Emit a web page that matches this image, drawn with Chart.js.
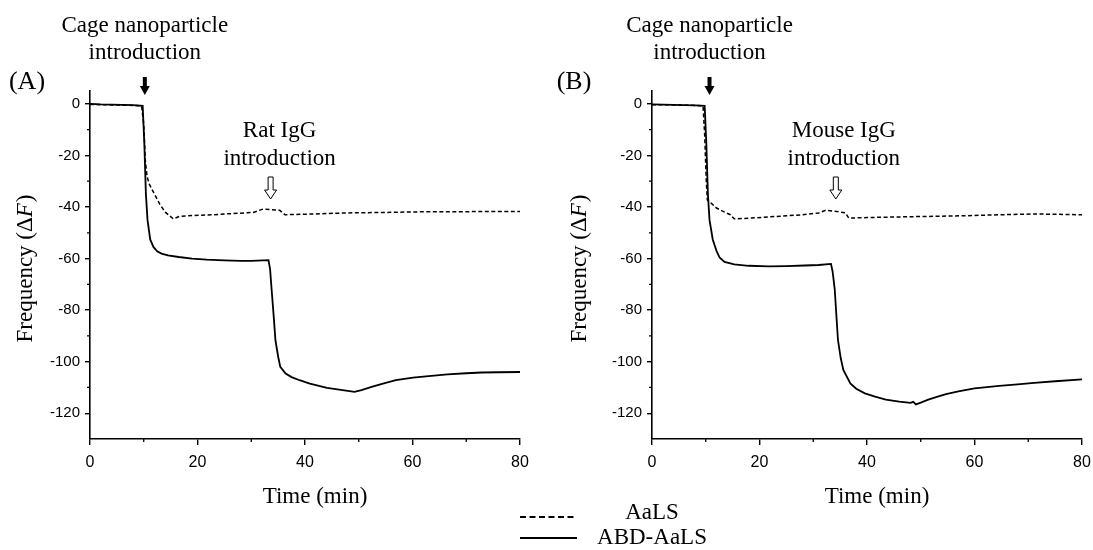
<!DOCTYPE html>
<html lang="en">
<head>
    <meta charset="UTF-8">
    <title>QCM frequency shift</title>
    <script src="https://cdn.jsdelivr.net/npm/chart.js"></script>
    <style>
        body { margin: 0; background: #fff; }
        #wrap { position: relative; width: 1093px; height: 550px; overflow: hidden; }
        canvas { position: absolute; top: 0; }
        #chartA { left: 0; }
        #chartB { left: 546px; }
        #legend { position: absolute; left: 0; top: 0; }
        .lg { position: absolute; font-family: "Liberation Serif", serif; font-size: 23px; color: #000;
              transform: translate(-50%, -50%); white-space: nowrap; }
    </style>
</head>
<body>
<div id="wrap">
    <canvas id="chartA" width="546" height="550"></canvas>
    <canvas id="chartB" width="547" height="550"></canvas>
    <svg id="legend" width="1093" height="550">
        <line x1="520" y1="517" x2="577" y2="517" stroke="#000" stroke-width="1.8" stroke-dasharray="6,3.5"/>
        <line x1="520" y1="538" x2="577" y2="538" stroke="#000" stroke-width="2"/>
    </svg>
    <div class="lg" style="left:652px; top:512px;">AaLS</div>
    <div class="lg" style="left:652px; top:537px;">ABD-AaLS</div>
</div>

<script>
    // axis ticks
    const xMajor = [0, 20, 40, 60, 80];
    const xMinor = [10, 30, 50, 70];
    const yMajor = [-120, -100, -80, -60, -40, -20, 0];
    const yMinor = [-110, -90, -70, -50, -30, -10];

    // (A) rat IgG
    const timeA_AaLS = [0, 2, 4, 6, 8, 9.6, 10, 10.3, 10.6, 11, 12, 13, 14, 15.5, 16.7, 19, 22.9, 26, 30.4, 32.2, 33.5, 35.3, 36.3, 40, 47.8, 55, 60.2, 70, 80];
    const freqA_AaLS = [-0.2, -0.3, -0.4, -0.5, -0.6, -0.8, -8, -22, -28, -31, -35, -39, -42, -44.6, -43.6, -43.3, -43, -42.6, -42.1, -40.8, -41, -41.3, -43, -42.8, -42.3, -42.1, -41.9, -41.8, -41.7];
    const timeA_ABD = [0, 2, 4, 6, 8, 9.8, 10.1, 10.4, 10.7, 11.2, 11.8, 12.5, 13.3, 14.5, 16.5, 19, 21.7, 25, 28.1, 30, 33.2, 33.5, 33.8, 34.2, 34.5, 35, 35.4, 36.4, 37.5, 39, 40.9, 44.1, 47, 49.2, 50.5, 52.4, 54.5, 56.9, 60.1, 63, 66.5, 70, 72.9, 76, 80];
    const freqA_ABD = [0, -0.2, -0.3, -0.4, -0.5, -0.8, -15, -35, -45, -52.6, -55.5, -57.2, -58.1, -58.8, -59.4, -60, -60.4, -60.7, -60.9, -60.9, -60.6, -64, -72.3, -83, -91.7, -98, -102, -104.6, -106, -107.2, -108.5, -110.2, -111, -111.7, -111, -109.8, -108.5, -107.2, -106.2, -105.6, -104.9, -104.5, -104.2, -104.1, -104];

    // (B) mouse IgG
    const timeB_AaLS = [0, 2, 4, 6, 8, 9.5, 9.8, 10.1, 10.3, 11, 12, 13.5, 14.6, 15.3, 18.5, 22, 25.1, 28, 31, 32.3, 34.3, 36, 36.6, 40, 44.8, 50, 58, 65, 71.1, 80];
    const freqB_AaLS = [-0.3, -0.3, -0.4, -0.5, -0.6, -0.8, -12, -30, -37.2, -38.5, -40.4, -42, -43, -44.6, -44.3, -43.8, -43.4, -43, -42.3, -41.3, -41.7, -42.3, -44.3, -44.1, -43.9, -43.7, -43.4, -43, -42.7, -43];
    const timeB_ABD = [0, 2, 4, 6, 8, 9.8, 10.1, 10.4, 10.7, 11.3, 12, 12.6, 13.5, 15.3, 18, 21.8, 25, 28.4, 31, 33.3, 33.6, 34, 34.3, 34.6, 35.1, 35.6, 36.9, 38, 39.6, 41.5, 43.5, 46, 48.1, 48.6, 49.1, 50, 51.4, 53, 54.7, 57, 60, 64.6, 68, 71.1, 75, 80];
    const freqB_ABD = [-0.2, -0.3, -0.4, -0.5, -0.6, -0.8, -15, -35, -45, -52.6, -57, -59.7, -61.3, -62.3, -62.8, -63, -62.9, -62.7, -62.5, -62.1, -65, -72, -82, -91.6, -98.5, -103.2, -108.4, -110.5, -112.3, -113.6, -114.7, -115.5, -116, -115.6, -116.6, -115.9, -114.7, -113.7, -112.6, -111.5, -110.4, -109.4, -108.8, -108.2, -107.6, -106.9];

    const SERIF = '"Liberation Serif", "Times New Roman", serif';
    const SANS = '"Liberation Sans", Arial, sans-serif';

    function pts(t, v) {
        return t.map((x, i) => ({ x: x, y: v[i] }));
    }

    // minor ticks, axis titles, arrows and notes
    const annot = {
        id: 'annot',
        afterDraw(chart, args, o) {
            const ctx = chart.ctx;
            const x = chart.scales.x, y = chart.scales.y;
            const area = chart.chartArea;
            ctx.save();
            ctx.strokeStyle = '#000';
            ctx.fillStyle = '#000';
            ctx.lineWidth = 1.3;
            ctx.beginPath();
            xMinor.forEach(v => {
                const px = x.getPixelForValue(v);
                ctx.moveTo(px, area.bottom);
                ctx.lineTo(px, area.bottom + 3);
            });
            yMinor.forEach(v => {
                const py = y.getPixelForValue(v);
                ctx.moveTo(area.left, py);
                ctx.lineTo(area.left - 3, py);
            });
            ctx.stroke();

            ctx.textAlign = 'center';
            ctx.textBaseline = 'middle';
            ctx.font = '23px ' + SERIF;

            // x title
            ctx.fillText('Time (min)', (area.left + area.right) / 2 + 10, 497);

            // y title, with italic F
            ctx.save();
            ctx.translate(o.yTitleX, (area.top + area.bottom) / 2 + 4);
            ctx.rotate(-Math.PI / 2);
            ctx.textAlign = 'left';
            const p1 = 'Frequency (\u0394', p2 = 'F', p3 = ')';
            ctx.font = '23px ' + SERIF;
            const w1 = ctx.measureText(p1).width, w3 = ctx.measureText(p3).width;
            ctx.font = 'italic 23px ' + SERIF;
            const w2 = ctx.measureText(p2).width;
            let sx = -(w1 + w2 + w3) / 2;
            ctx.font = '23px ' + SERIF;
            ctx.fillText(p1, sx, 0);
            ctx.font = 'italic 23px ' + SERIF;
            ctx.fillText(p2, sx + w1, 0);
            ctx.font = '23px ' + SERIF;
            ctx.fillText(p3, sx + w1 + w2 + 1, 0);
            ctx.restore();

            // panel letter
            ctx.font = '26px ' + SERIF;
            ctx.fillText(o.letter, o.letterX, 82);

            // cage nanoparticle arrow
            const ax = x.getPixelForValue(o.cageT);
            ctx.font = '23px ' + SERIF;
            ctx.fillText('Cage nanoparticle', ax, 26);
            ctx.fillText('introduction', ax, 53);
            ctx.beginPath();
            ctx.moveTo(ax - 2, 77);
            ctx.lineTo(ax + 2, 77);
            ctx.lineTo(ax + 2, 86);
            ctx.lineTo(ax + 5, 86);
            ctx.lineTo(ax, 95);
            ctx.lineTo(ax - 5, 86);
            ctx.lineTo(ax - 2, 86);
            ctx.closePath();
            ctx.fill();

            // IgG arrow
            const bx = x.getPixelForValue(o.iggT);
            ctx.fillText(o.iggLabel, bx + o.iggTextDx, 131);
            ctx.fillText('introduction', bx + o.iggTextDx, 159);
            ctx.beginPath();
            ctx.moveTo(bx - 2.5, 177);
            ctx.lineTo(bx + 2.5, 177);
            ctx.lineTo(bx + 2.5, 190);
            ctx.lineTo(bx + 6, 190);
            ctx.lineTo(bx, 199);
            ctx.lineTo(bx - 6, 190);
            ctx.lineTo(bx - 2.5, 190);
            ctx.closePath();
            ctx.fillStyle = '#fff';
            ctx.fill();
            ctx.lineWidth = 1;
            ctx.stroke();
            ctx.restore();
        }
    };

    function buildChart(id, aT, aV, bT, bV, cfg) {
        return new Chart(document.getElementById(id), {
            type: 'scatter',
            data: {
                datasets: [
                    { label: 'AaLS', data: pts(aT, aV), showLine: true, borderColor: '#000', borderWidth: 1.5,
                      borderDash: [4, 2.5], pointRadius: 0, tension: 0 },
                    { label: 'ABD-AaLS', data: pts(bT, bV), showLine: true, borderColor: '#000', borderWidth: 1.8,
                      pointRadius: 0, tension: 0 }
                ]
            },
            options: {
                responsive: false,
                animation: false,
                layout: { padding: { top: 91, right: cfg.padRight, bottom: 71, left: 0 } },
                plugins: {
                    legend: { display: false },
                    tooltip: { enabled: false },
                    annot: cfg
                },
                scales: {
                    x: {
                        type: 'linear', min: 0, max: 80,
                        afterBuildTicks: s => { s.ticks = xMajor.map(v => ({ value: v })); },
                        afterFit: s => { s.height = 40; s.paddingLeft = 0; s.paddingRight = 0; },
                        ticks: { font: { family: SANS, size: 16 }, color: '#000', padding: 8, maxRotation: 0 },
                        grid: { drawOnChartArea: false, tickLength: 6, color: '#000', lineWidth: 1.4 },
                        border: { color: '#000', width: 1.6 }
                    },
                    y: {
                        type: 'linear', min: -130, max: 5,
                        afterBuildTicks: s => { s.ticks = yMajor.map(v => ({ value: v })); },
                        afterFit: s => { s.width = cfg.yWidth; },
                        ticks: { font: { family: SANS, size: 15 }, color: '#000', padding: 5 },
                        grid: { drawOnChartArea: false, tickLength: 5, color: '#000', lineWidth: 1.4 },
                        border: { color: '#000', width: 1.6 }
                    }
                }
            },
            plugins: [annot]
        });
    }

    buildChart('chartA', timeA_AaLS, freqA_AaLS, timeA_ABD, freqA_ABD, {
        padRight: 26, yWidth: 90, yTitleX: 26, letter: '(A)', letterX: 27,
        cageT: 10.2, iggT: 33.6, iggLabel: 'Rat IgG', iggTextDx: 9
    });
    buildChart('chartB', timeB_AaLS, freqB_AaLS, timeB_ABD, freqB_ABD, {
        padRight: 11, yWidth: 106, yTitleX: 34, letter: '(B)', letterX: 28,
        cageT: 10.7, iggT: 34.2, iggLabel: 'Mouse IgG', iggTextDx: 8
    });
</script>
</body>
</html>
